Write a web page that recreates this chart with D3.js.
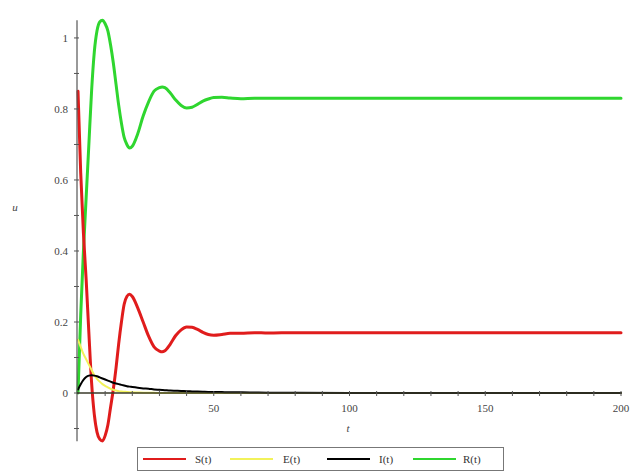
<!DOCTYPE html>
<html><head><meta charset="utf-8">
<script src="https://cdn.jsdelivr.net/npm/d3@7"></script>
<style>body{margin:0;background:#fff;} text{font-family:"Liberation Serif","Times New Roman",serif;}</style>
</head><body><svg id="c" width="633" height="472"></svg>
<script>
const tVals = [0,1,2,3,4,5,6,7,8,9,10,11,12,13,14,15,16,17,18,19,20,22,24,26,28,30,31,32,34,36,38,40,42,44,46,48,50,53,56,60,65,70,80,100,150,200];
const S = [0.85,0.62,0.45,0.32,0.17,0.03,-0.06,-0.11,-0.13,-0.135,-0.12,-0.09,-0.04,0.01,0.07,0.14,0.20,0.25,0.272,0.278,0.272,0.24,0.20,0.16,0.13,0.118,0.116,0.119,0.138,0.162,0.178,0.186,0.185,0.179,0.171,0.165,0.163,0.165,0.168,0.168,0.17,0.169,0.17,0.17,0.17,0.17];
const E = [0.15,0.13,0.11,0.095,0.08,0.065,0.05,0.04,0.032,0.025,0.02,0.016,0.012,0.009,0.007,0.005,0.004,0.0035,0.003,0.0025,0.002,0.0015,0.001,0.001,0.0005,0,0,0,0,0,0,0,0,0,0,0,0,0,0,0,0,0,0,0,0,0];
const I = [0.01,0.025,0.037,0.045,0.049,0.05,0.049,0.047,0.044,0.041,0.038,0.035,0.032,0.029,0.027,0.025,0.023,0.021,0.019,0.018,0.017,0.015,0.013,0.012,0.010,0.009,0.0085,0.008,0.007,0.0065,0.006,0.005,0.0045,0.004,0.0035,0.003,0.003,0.0025,0.002,0.002,0.0015,0.001,0.0005,0,0,0];
const R = [0.0,0.22,0.40,0.55,0.70,0.85,0.96,1.02,1.045,1.05,1.04,1.02,0.98,0.93,0.87,0.81,0.76,0.72,0.70,0.69,0.695,0.73,0.78,0.82,0.85,0.86,0.862,0.86,0.845,0.825,0.81,0.803,0.805,0.813,0.822,0.828,0.832,0.833,0.831,0.829,0.83,0.83,0.83,0.83,0.83,0.83];
const xTicks = [50,100,150,200];
const yTicks = [0,0.2,0.4,0.6,0.8,1];
const yTickLabels = ["0","0.2","0.4","0.6","0.8","1"];
const seriesNames = ["S(t)","E(t)","I(t)","R(t)"];
const seriesColors = ["#e01c1c","#f2f25a","#000000","#2fd62f"];
const seriesWidths = [3,2,2,3];

const svg = d3.select("#c");
const x = d3.scaleLinear().domain([0,200]).range([78,621]);
const y = d3.scaleLinear().domain([-0.136,1.05]).range([441.3,20.2]);
const axisCol = "#555";

// curves
const data = [S,E,I,R];
const line = d3.line().curve(d3.curveMonotoneX);
// draw order: R, S, I, E? original shows red over green near start
const order = [3,0,1,2];
order.forEach(k=>{
  const pts = tVals.map((t,i)=>[x(t), y(data[k][i])]);
  svg.append("path").attr("d", line(pts)).attr("fill","none")
    .attr("stroke", seriesColors[k]).attr("stroke-width", seriesWidths[k])
    .attr("stroke-linejoin","round").attr("stroke-linecap","round");
});

// y axis
svg.append("line").attr("x1",x(0)-1).attr("x2",x(0)-1).attr("y1",y.range()[1]).attr("y2",y.range()[0])
  .attr("stroke",axisCol).attr("stroke-width",1.2);
d3.range(-0.1,1.05,0.1).forEach(v=>{
  svg.append("line").attr("x1",x(0)-4).attr("x2",x(0)+1).attr("y1",y(v)).attr("y2",y(v)).attr("stroke",axisCol);
});
yTicks.forEach((v,i)=>{
  svg.append("text").attr("x",x(0)-10).attr("y",y(v)+4).attr("text-anchor","end")
    .attr("font-size",11).attr("fill","#444").text(yTickLabels[i]);
});
// x axis at y=0
svg.append("line").attr("x1",x(0)-1).attr("x2",x(200)).attr("y1",y(0)).attr("y2",y(0))
  .attr("stroke","#3a3a2a").attr("stroke-width",1.4);
d3.range(10,201,10).forEach(v=>{
  svg.append("line").attr("x1",x(v)).attr("x2",x(v)).attr("y1",y(0)-2).attr("y2",y(0)+3).attr("stroke",axisCol);
});
xTicks.forEach(v=>{
  svg.append("text").attr("x",x(v)).attr("y",y(0)+19).attr("text-anchor","middle")
    .attr("font-size",11).attr("fill","#444").text(v);
});
svg.append("text").attr("x",348).attr("y",432).attr("text-anchor","middle").attr("font-size",11)
  .attr("font-style","italic").attr("fill","#444").text("t");
svg.append("text").attr("x",15).attr("y",211).attr("text-anchor","middle").attr("font-size",11)
  .attr("font-style","italic").attr("fill","#444").text("u");

// legend
svg.append("rect").attr("x",137.5).attr("y",447.5).attr("width",366).attr("height",23)
  .attr("fill","#fff").attr("stroke","#777");
const legX = [143,230,327,413];
seriesNames.forEach((n,k)=>{
  svg.append("line").attr("x1",legX[k]).attr("x2",legX[k]+43).attr("y1",459).attr("y2",459)
    .attr("stroke",seriesColors[k]).attr("stroke-width",2);
  svg.append("text").attr("x",legX[k]+(k==1?53:k==3?50:52)).attr("y",463).attr("font-size",11)
    .attr("fill","#333").text(n);
});
</script></body></html>
